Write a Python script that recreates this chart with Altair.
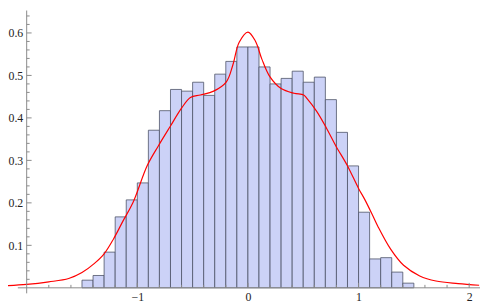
import altair as alt
import pandas as pd

# Histogram: bin edges and density heights
bin_edges = [-1.5, -1.4, -1.3, -1.2, -1.1, -1.0, -0.9, -0.8, -0.7, -0.6, -0.5,
             -0.4, -0.3, -0.2, -0.1, 0.0, 0.1, 0.2, 0.3, 0.4, 0.5,
             0.6, 0.7, 0.8, 0.9, 1.0, 1.1, 1.2, 1.3, 1.4, 1.5]
bin_heights = [0.018, 0.029, 0.084, 0.167, 0.207, 0.247, 0.371, 0.417, 0.467, 0.463,
               0.484, 0.453, 0.503, 0.533, 0.567, 0.567, 0.520, 0.480, 0.493, 0.510,
               0.484, 0.496, 0.443, 0.366, 0.287, 0.178, 0.068, 0.071, 0.037, 0.011]

# Smooth density curve (red)
curve_x = [-2.18, -2.0, -1.8, -1.62, -1.5, -1.39, -1.3, -1.215, -1.13, -1.04,
           -0.91, -0.81, -0.70, -0.60, -0.52, -0.43, -0.31, -0.195, -0.137, -0.079,
           0.0, 0.067, 0.125, 0.198, 0.30, 0.417, 0.504, 0.533, 0.62, 0.708,
           0.795, 0.898, 1.0, 1.058, 1.13, 1.174, 1.29, 1.407, 1.553, 1.70, 1.90, 2.09]
curve_y = [0.005, 0.008, 0.014, 0.022, 0.036, 0.057, 0.080, 0.115, 0.157, 0.200,
           0.288, 0.334, 0.381, 0.423, 0.448, 0.454, 0.463, 0.485, 0.524, 0.578,
           0.602, 0.581, 0.539, 0.497, 0.469, 0.458, 0.454, 0.446, 0.416, 0.377,
           0.334, 0.288, 0.234, 0.207, 0.169, 0.145, 0.091, 0.053, 0.028, 0.016, 0.010, 0.006]

# Axis ticks
x_major = [-1, 0, 1, 2]
x_minor = [-1.8, -1.6, -1.4, -1.2, -0.8, -0.6, -0.4, -0.2, 0.2, 0.4, 0.6, 0.8,
           1.2, 1.4, 1.6, 1.8]
y_major = [0.1, 0.2, 0.3, 0.4, 0.5, 0.6]
y_minor = [0.02, 0.04, 0.06, 0.08, 0.12, 0.14, 0.16, 0.18, 0.22, 0.24, 0.26, 0.28,
           0.32, 0.34, 0.36, 0.38, 0.42, 0.44, 0.46, 0.48, 0.52, 0.54, 0.56, 0.58,
           0.62, 0.64]

X_MIN, X_MAX = -2.0, 2.0978
Y_MIN, Y_MAX = 0.0, 0.6528

bars = pd.DataFrame({"left": bin_edges[:-1], "right": bin_edges[1:], "h": bin_heights})
curve = pd.DataFrame({"x": curve_x, "y": curve_y})

AXIS_COLOR = "#8a8a8a"
FONT = "Liberation Serif, Times New Roman, serif"

xs = alt.Scale(domain=[X_MIN, X_MAX], nice=False, zero=False)
ys = alt.Scale(domain=[Y_MIN, Y_MAX], nice=False, zero=False)

x_axis = alt.Axis(values=x_major, ticks=False, domain=False, grid=False, title=None,
                  labelFont=FONT, labelFontSize=12, labelColor="#222",
                  labelPadding=4, format="d")
y_axis = alt.Axis(values=y_major, ticks=False, domain=False, grid=False, title=None,
                  labelFont=FONT, labelFontSize=12, labelColor="#222",
                  labelPadding=4, format=".1f")

hist = alt.Chart(bars).mark_rect(
    fill="#ccd2f7", stroke="#4d5266", strokeOpacity=0.8, strokeWidth=1
).encode(
    x=alt.X("left:Q", scale=xs, axis=x_axis),
    x2="right:Q",
    y=alt.Y("h:Q", scale=ys, axis=y_axis),
    y2=alt.datum(0),
)

line = alt.Chart(curve).mark_line(
    color="#ff0000", strokeWidth=1.2, interpolate="catmull-rom", clip=False
).encode(x="x:Q", y="y:Q")

# axis lines
x_axis_line = alt.Chart(pd.DataFrame({"a": [0]})).mark_rule(
    color=AXIS_COLOR, strokeWidth=1, clip=False
).encode(x=alt.datum(-2.08), x2=alt.datum(2.1), y=alt.datum(0))

y_axis_line = alt.Chart(pd.DataFrame({"a": [0]})).mark_rule(
    color=AXIS_COLOR, strokeWidth=1, clip=False
).encode(x=alt.datum(-2.0), y=alt.datum(-0.013), y2=alt.value(0))

# inward ticks
xt_major = alt.Chart(pd.DataFrame({"v": x_major})).mark_rule(
    color=AXIS_COLOR, y2Offset=-5
).encode(x="v:Q", y=alt.datum(0), y2=alt.datum(0))
xt_minor = alt.Chart(pd.DataFrame({"v": x_minor})).mark_rule(
    color=AXIS_COLOR, y2Offset=-3
).encode(x="v:Q", y=alt.datum(0), y2=alt.datum(0))
yt_major = alt.Chart(pd.DataFrame({"v": y_major})).mark_rule(
    color=AXIS_COLOR, x2Offset=5
).encode(y="v:Q", x=alt.datum(-2.0), x2=alt.datum(-2.0))
yt_minor = alt.Chart(pd.DataFrame({"v": y_minor})).mark_rule(
    color=AXIS_COLOR, x2Offset=3
).encode(y="v:Q", x=alt.datum(-2.0), x2=alt.datum(-2.0))

chart = alt.layer(
    hist, line, x_axis_line, y_axis_line, xt_major, xt_minor, yt_major, yt_minor
).properties(
    width=461, height=282,
    padding={"left": 19, "top": 0, "right": 0, "bottom": 20},
    autosize="none",
).configure_view(stroke=None)

chart.save("out.html", embed_options={"renderer": "svg", "actions": False})
